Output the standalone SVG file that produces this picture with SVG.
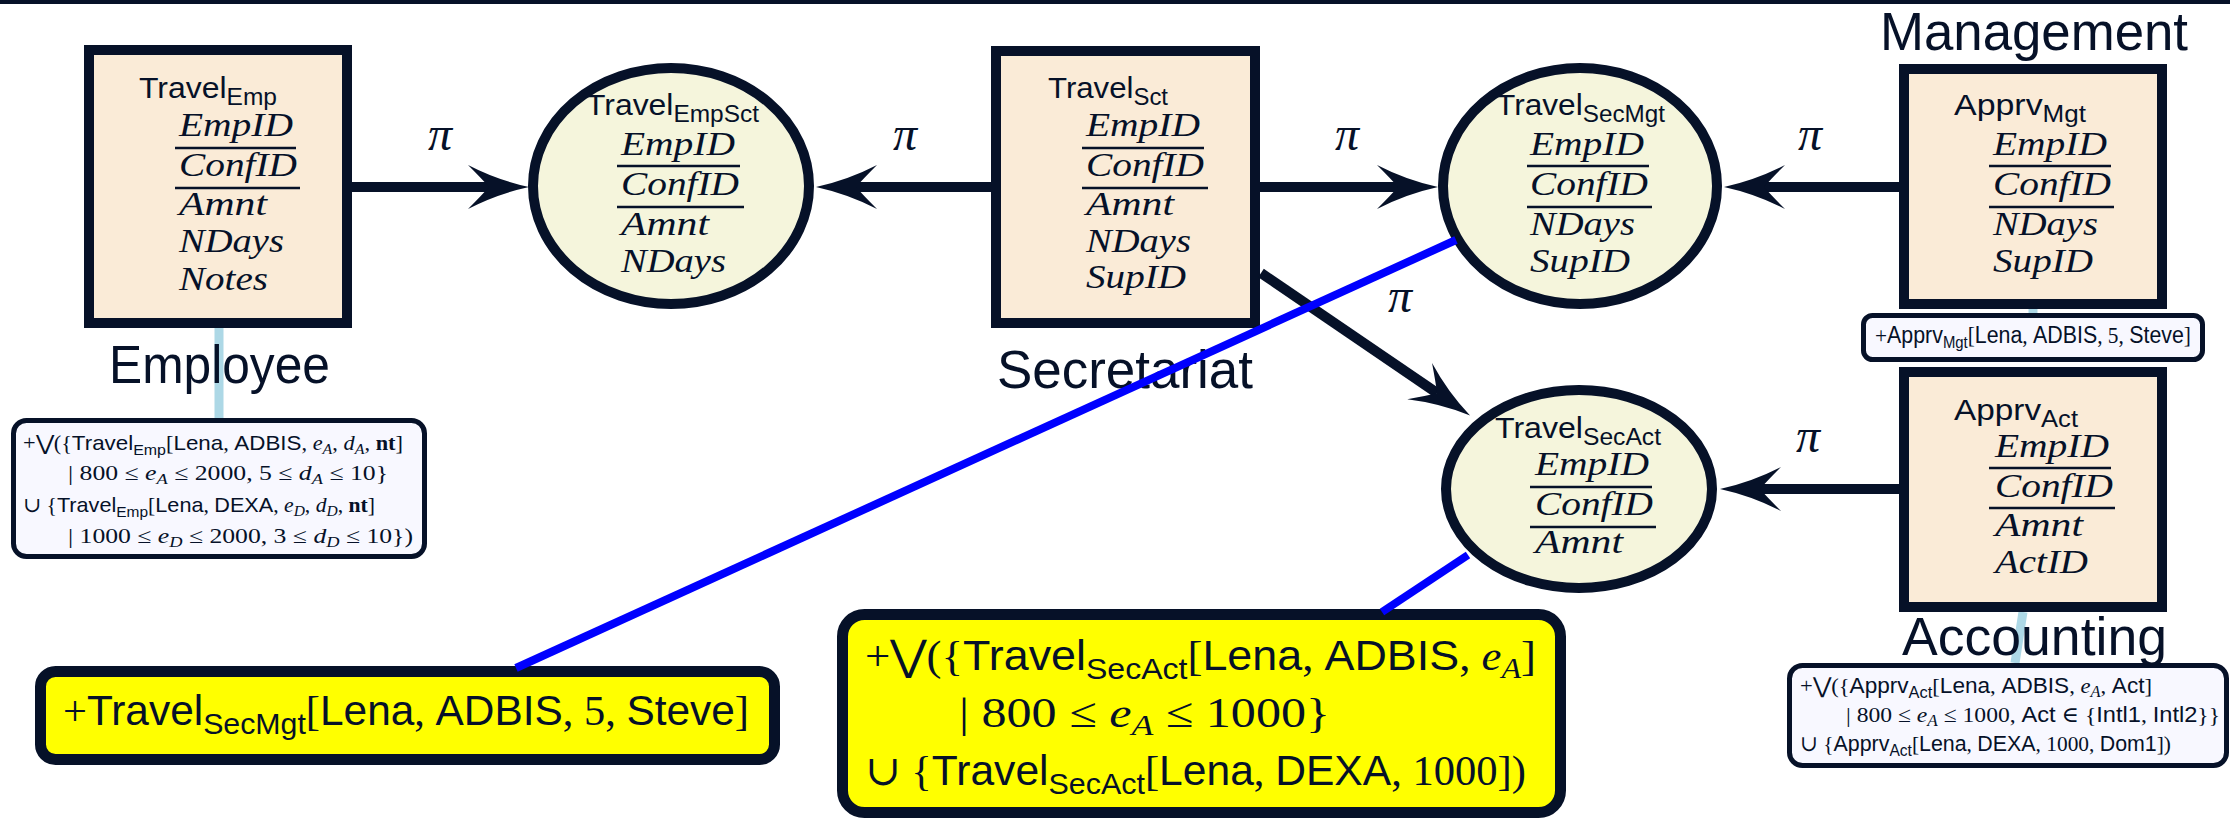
<svg xmlns="http://www.w3.org/2000/svg" width="2230" height="818" viewBox="0 0 2230 818">
<style>
.bg{fill:#ffffff}
.rel{fill:#FAEBD7;stroke:#061128;stroke-width:10}
.view{fill:#F5F5DC;stroke:#061128;stroke-width:10}
.note{fill:#F8F8FF;stroke:#061128;stroke-width:5}
.hl{fill:#FFFF00;stroke:#061128;stroke-width:11}
.ttl{font-family:"Liberation Sans",Arial,sans-serif;font-size:30px;fill:#061128}
.att{font-family:"Liberation Serif","Times New Roman",serif;font-style:italic;font-size:33px;fill:#061128}
.ul{stroke:#061128;stroke-width:2.5}
.lbl{font-family:"Liberation Sans",Arial,sans-serif;font-size:54px;fill:#061128}
.pi{font-family:"Liberation Serif","DejaVu Serif",serif;font-style:italic;font-size:48px;fill:#061128}
.sf{font-family:"Liberation Sans",Arial,sans-serif}
.rm{font-family:"Liberation Serif","DejaVu Serif",serif}
.it{font-family:"Liberation Serif","DejaVu Serif",serif;font-style:italic}
.bf{font-family:"Liberation Serif","DejaVu Serif",serif;font-weight:bold}
.mt{fill:#061128}
.arr{stroke:#061128;stroke-width:10;fill:none}
.blue{stroke:#0000FF;stroke-width:8}
.lb{stroke:#ADD8E6;stroke-width:9}
</style>
<defs>
<marker id="ah" markerUnits="userSpaceOnUse" markerWidth="80" markerHeight="60" viewBox="-30 -30 80 60" refX="0" refY="0" orient="auto">
<path d="M40,0 Q8,-7 -21,-22 Q-7,-8 0,0 Q-7,8 -21,22 Q8,7 40,0 Z" fill="#061128"/>
</marker>
</defs>
<rect class="bg" x="0" y="0" width="2230" height="818"/>
<rect x="0" y="0" width="2230" height="4" fill="#061128"/>

<g id="note-links">
<line class="lb" x1="219" y1="328" x2="219" y2="418"/>
<line class="lb" x1="2033" y1="309" x2="2033" y2="313" stroke-width="8"/>
<line class="lb" x1="2023" y1="612" x2="2015" y2="663" stroke-width="8"/>
</g>

<g id="emp">
<rect class="rel" x="89" y="50" width="258" height="273"/>
<text class="ttl" x="139" y="98" textLength="138" lengthAdjust="spacingAndGlyphs">Travel<tspan font-size="23" dy="7">Emp</tspan></text>
<text class="att" x="179" y="136" textLength="114" lengthAdjust="spacingAndGlyphs">EmpID</text>
<line class="ul" x1="175" y1="148" x2="296" y2="148"/>
<text class="att" x="179" y="176" textLength="118" lengthAdjust="spacingAndGlyphs">ConfID</text>
<line class="ul" x1="175" y1="188" x2="300" y2="188"/>
<text class="att" x="179" y="215" textLength="88" lengthAdjust="spacingAndGlyphs">Amnt</text>
<text class="att" x="179" y="252" textLength="105" lengthAdjust="spacingAndGlyphs">NDays</text>
<text class="att" x="179" y="290" textLength="89" lengthAdjust="spacingAndGlyphs">Notes</text>
<text class="lbl" x="109" y="383" textLength="221" lengthAdjust="spacingAndGlyphs">Employee</text>
</g>

<g id="empsct">
<ellipse class="view" cx="671" cy="186" rx="138" ry="118"/>
<text class="ttl" x="586" y="115" textLength="173" lengthAdjust="spacingAndGlyphs">Travel<tspan font-size="23" dy="7">EmpSct</tspan></text>
<text class="att" x="621" y="155" textLength="114" lengthAdjust="spacingAndGlyphs">EmpID</text>
<line class="ul" x1="617" y1="166" x2="740" y2="166"/>
<text class="att" x="621" y="195" textLength="118" lengthAdjust="spacingAndGlyphs">ConfID</text>
<line class="ul" x1="617" y1="207" x2="744" y2="207"/>
<text class="att" x="621" y="235" textLength="88" lengthAdjust="spacingAndGlyphs">Amnt</text>
<text class="att" x="621" y="272" textLength="105" lengthAdjust="spacingAndGlyphs">NDays</text>
</g>

<g id="sct">
<rect class="rel" x="996" y="51" width="259" height="272"/>
<text class="ttl" x="1048" y="98" textLength="120" lengthAdjust="spacingAndGlyphs">Travel<tspan font-size="23" dy="7">Sct</tspan></text>
<text class="att" x="1086" y="136" textLength="114" lengthAdjust="spacingAndGlyphs">EmpID</text>
<line class="ul" x1="1082" y1="148" x2="1204" y2="148"/>
<text class="att" x="1086" y="176" textLength="118" lengthAdjust="spacingAndGlyphs">ConfID</text>
<line class="ul" x1="1082" y1="188" x2="1208" y2="188"/>
<text class="att" x="1086" y="215" textLength="88" lengthAdjust="spacingAndGlyphs">Amnt</text>
<text class="att" x="1086" y="252" textLength="105" lengthAdjust="spacingAndGlyphs">NDays</text>
<text class="att" x="1086" y="288" textLength="100" lengthAdjust="spacingAndGlyphs">SupID</text>
<text class="lbl" x="997" y="388" textLength="256" lengthAdjust="spacingAndGlyphs">Secretariat</text>
</g>

<g id="secmgt">
<ellipse class="view" cx="1580" cy="186" rx="137" ry="118"/>
<text class="ttl" x="1496" y="115" textLength="169" lengthAdjust="spacingAndGlyphs">Travel<tspan font-size="23" dy="7">SecMgt</tspan></text>
<text class="att" x="1530" y="155" textLength="114" lengthAdjust="spacingAndGlyphs">EmpID</text>
<line class="ul" x1="1527" y1="166" x2="1649" y2="166"/>
<text class="att" x="1530" y="195" textLength="118" lengthAdjust="spacingAndGlyphs">ConfID</text>
<line class="ul" x1="1527" y1="207" x2="1652" y2="207"/>
<text class="att" x="1530" y="235" textLength="105" lengthAdjust="spacingAndGlyphs">NDays</text>
<text class="att" x="1530" y="272" textLength="100" lengthAdjust="spacingAndGlyphs">SupID</text>
</g>

<g id="mgt">
<text class="lbl" x="1880" y="50" textLength="308" lengthAdjust="spacingAndGlyphs">Management</text>
<rect class="rel" x="1904" y="69" width="258" height="235"/>
<text class="ttl" x="1954" y="115" textLength="132" lengthAdjust="spacingAndGlyphs">Apprv<tspan font-size="23" dy="7">Mgt</tspan></text>
<text class="att" x="1993" y="155" textLength="114" lengthAdjust="spacingAndGlyphs">EmpID</text>
<line class="ul" x1="1989" y1="166" x2="2111" y2="166"/>
<text class="att" x="1993" y="195" textLength="118" lengthAdjust="spacingAndGlyphs">ConfID</text>
<line class="ul" x1="1989" y1="207" x2="2114" y2="207"/>
<text class="att" x="1993" y="235" textLength="105" lengthAdjust="spacingAndGlyphs">NDays</text>
<text class="att" x="1993" y="272" textLength="100" lengthAdjust="spacingAndGlyphs">SupID</text>
</g>

<g id="act">
<rect class="rel" x="1904" y="372" width="258" height="235"/>
<text class="ttl" x="1954" y="420" textLength="124" lengthAdjust="spacingAndGlyphs">Apprv<tspan font-size="23" dy="7">Act</tspan></text>
<text class="att" x="1995" y="457" textLength="114" lengthAdjust="spacingAndGlyphs">EmpID</text>
<line class="ul" x1="1989" y1="468" x2="2111" y2="468"/>
<text class="att" x="1995" y="497" textLength="118" lengthAdjust="spacingAndGlyphs">ConfID</text>
<line class="ul" x1="1989" y1="508" x2="2115" y2="508"/>
<text class="att" x="1995" y="536" textLength="88" lengthAdjust="spacingAndGlyphs">Amnt</text>
<text class="att" x="1995" y="573" textLength="93" lengthAdjust="spacingAndGlyphs">ActID</text>
<text class="lbl" x="1902" y="655" textLength="265" lengthAdjust="spacingAndGlyphs">Accounting</text>
</g>

<g id="secact">
<ellipse class="view" cx="1579" cy="489" rx="133" ry="99"/>
<text class="ttl" x="1495" y="438" textLength="166" lengthAdjust="spacingAndGlyphs">Travel<tspan font-size="23" dy="7">SecAct</tspan></text>
<text class="att" x="1535" y="475" textLength="114" lengthAdjust="spacingAndGlyphs">EmpID</text>
<line class="ul" x1="1530" y1="487" x2="1652" y2="487"/>
<text class="att" x="1535" y="515" textLength="118" lengthAdjust="spacingAndGlyphs">ConfID</text>
<line class="ul" x1="1530" y1="527" x2="1656" y2="527"/>
<text class="att" x="1535" y="553" textLength="88" lengthAdjust="spacingAndGlyphs">Amnt</text>
</g>

<g id="note-emp">
<rect class="note" x="13.5" y="420.5" width="411" height="136" rx="13"/>
<text class="mt" x="23" y="450" font-size="21" textLength="380" lengthAdjust="spacingAndGlyphs"><tspan class="rm">+⋁({</tspan><tspan class="sf">Travel</tspan><tspan class="sf" font-size="15" dy="5">Emp</tspan><tspan class="rm" dy="-5">[</tspan><tspan class="sf">Lena</tspan><tspan class="rm">, </tspan><tspan class="sf">ADBIS</tspan><tspan class="rm">, </tspan><tspan class="it">e</tspan><tspan class="it" font-size="15" dy="4">A</tspan><tspan class="rm" dy="-4">, </tspan><tspan class="it">d</tspan><tspan class="it" font-size="15" dy="4">A</tspan><tspan class="rm" dy="-4">, </tspan><tspan class="bf">nt</tspan><tspan class="rm">]</tspan></text>
<text class="mt" x="68" y="480" font-size="21" textLength="320" lengthAdjust="spacingAndGlyphs"><tspan class="rm">| 800 ≤ </tspan><tspan class="it">e</tspan><tspan class="it" font-size="15" dy="4">A</tspan><tspan class="rm" dy="-4"> ≤ 2000, 5 ≤ </tspan><tspan class="it">d</tspan><tspan class="it" font-size="15" dy="4">A</tspan><tspan class="rm" dy="-4"> ≤ 10}</tspan></text>
<text class="mt" x="23" y="512" font-size="21" textLength="352" lengthAdjust="spacingAndGlyphs"><tspan class="rm">∪ {</tspan><tspan class="sf">Travel</tspan><tspan class="sf" font-size="15" dy="5">Emp</tspan><tspan class="rm" dy="-5">[</tspan><tspan class="sf">Lena</tspan><tspan class="rm">, </tspan><tspan class="sf">DEXA</tspan><tspan class="rm">, </tspan><tspan class="it">e</tspan><tspan class="it" font-size="15" dy="4">D</tspan><tspan class="rm" dy="-4">, </tspan><tspan class="it">d</tspan><tspan class="it" font-size="15" dy="4">D</tspan><tspan class="rm" dy="-4">, </tspan><tspan class="bf">nt</tspan><tspan class="rm">]</tspan></text>
<text class="mt" x="68" y="543" font-size="21" textLength="345" lengthAdjust="spacingAndGlyphs"><tspan class="rm">| 1000 ≤ </tspan><tspan class="it">e</tspan><tspan class="it" font-size="15" dy="4">D</tspan><tspan class="rm" dy="-4"> ≤ 2000, 3 ≤ </tspan><tspan class="it">d</tspan><tspan class="it" font-size="15" dy="4">D</tspan><tspan class="rm" dy="-4"> ≤ 10})</tspan></text>
</g>

<g id="note-mgt">
<rect class="note" x="1863.5" y="315.5" width="339" height="44" rx="9"/>
<text class="mt" x="1875" y="343" font-size="23" textLength="316" lengthAdjust="spacingAndGlyphs"><tspan class="rm">+</tspan><tspan class="sf">Apprv</tspan><tspan class="sf" font-size="16" dy="5">Mgt</tspan><tspan class="rm" dy="-5">[</tspan><tspan class="sf">Lena</tspan><tspan class="rm">, </tspan><tspan class="sf">ADBIS</tspan><tspan class="rm">, 5, </tspan><tspan class="sf">Steve</tspan><tspan class="rm">]</tspan></text>
</g>

<g id="note-act">
<rect class="note" x="1789.5" y="665.5" width="437" height="100" rx="13"/>
<text class="mt" x="1800" y="693" font-size="22" textLength="352" lengthAdjust="spacingAndGlyphs"><tspan class="rm">+⋁({</tspan><tspan class="sf">Apprv</tspan><tspan class="sf" font-size="16" dy="5">Act</tspan><tspan class="rm" dy="-5">[</tspan><tspan class="sf">Lena</tspan><tspan class="rm">, </tspan><tspan class="sf">ADBIS</tspan><tspan class="rm">, </tspan><tspan class="it">e</tspan><tspan class="it" font-size="16" dy="4">A</tspan><tspan class="rm" dy="-4">, </tspan><tspan class="sf">Act</tspan><tspan class="rm">]</tspan></text>
<text class="mt" x="1846" y="722" font-size="22" textLength="374" lengthAdjust="spacingAndGlyphs"><tspan class="rm">| 800 ≤ </tspan><tspan class="it">e</tspan><tspan class="it" font-size="16" dy="4">A</tspan><tspan class="rm" dy="-4"> ≤ 1000, </tspan><tspan class="sf">Act</tspan><tspan class="rm"> ∈ {</tspan><tspan class="sf">Intl1</tspan><tspan class="rm">, </tspan><tspan class="sf">Intl2</tspan><tspan class="rm">}}</tspan></text>
<text class="mt" x="1800" y="751" font-size="22" textLength="371" lengthAdjust="spacingAndGlyphs"><tspan class="rm">∪ {</tspan><tspan class="sf">Apprv</tspan><tspan class="sf" font-size="16" dy="5">Act</tspan><tspan class="rm" dy="-5">[</tspan><tspan class="sf">Lena</tspan><tspan class="rm">, </tspan><tspan class="sf">DEXA</tspan><tspan class="rm">, 1000, </tspan><tspan class="sf">Dom1</tspan><tspan class="rm">])</tspan></text>
</g>

<g id="hl-secmgt">
<rect class="hl" x="40.5" y="671.5" width="734" height="88" rx="15"/>
<text class="mt" x="63" y="725" font-size="42" textLength="686" lengthAdjust="spacingAndGlyphs"><tspan class="rm">+</tspan><tspan class="sf">Travel</tspan><tspan class="sf" font-size="30" dy="9">SecMgt</tspan><tspan class="rm" dy="-9">[</tspan><tspan class="sf">Lena</tspan><tspan class="rm">, </tspan><tspan class="sf">ADBIS</tspan><tspan class="rm">, 5, </tspan><tspan class="sf">Steve</tspan><tspan class="rm">]</tspan></text>
</g>

<g id="hl-secact">
<rect class="hl" x="842.5" y="614.5" width="718" height="198" rx="22"/>
<text class="mt" x="865" y="670" font-size="42" textLength="671" lengthAdjust="spacingAndGlyphs"><tspan class="rm">+⋁({</tspan><tspan class="sf">Travel</tspan><tspan class="sf" font-size="30" dy="9">SecAct</tspan><tspan class="rm" dy="-9">[</tspan><tspan class="sf">Lena</tspan><tspan class="rm">, </tspan><tspan class="sf">ADBIS</tspan><tspan class="rm">, </tspan><tspan class="it">e</tspan><tspan class="it" font-size="30" dy="8">A</tspan><tspan class="rm" dy="-8">]</tspan></text>
<text class="mt" x="959" y="727" font-size="42" textLength="371" lengthAdjust="spacingAndGlyphs"><tspan class="rm">| 800 ≤ </tspan><tspan class="it">e</tspan><tspan class="it" font-size="30" dy="8">A</tspan><tspan class="rm" dy="-8"> ≤ 1000}</tspan></text>
<text class="mt" x="865" y="785" font-size="42" textLength="661" lengthAdjust="spacingAndGlyphs"><tspan class="rm">∪ {</tspan><tspan class="sf">Travel</tspan><tspan class="sf" font-size="30" dy="9">SecAct</tspan><tspan class="rm" dy="-9">[</tspan><tspan class="sf">Lena</tspan><tspan class="rm">, </tspan><tspan class="sf">DEXA</tspan><tspan class="rm">, 1000])</tspan></text>
</g>

<g id="connectors">
<line class="arr" x1="352" y1="187" x2="489" y2="187" marker-end="url(#ah)"/>
<line class="arr" x1="991" y1="187" x2="856" y2="187" marker-end="url(#ah)"/>
<line class="arr" x1="1260" y1="187" x2="1398" y2="187" marker-end="url(#ah)"/>
<line class="arr" x1="1899" y1="187" x2="1764" y2="187" marker-end="url(#ah)"/>
<line class="arr" x1="1261" y1="273" x2="1437" y2="393" stroke-width="9" marker-end="url(#ah)"/>
<line class="arr" x1="1899" y1="489" x2="1760" y2="489" marker-end="url(#ah)"/>
<text class="pi" x="440" y="150" text-anchor="middle">π</text>
<text class="pi" x="905" y="150" text-anchor="middle">π</text>
<text class="pi" x="1347" y="150" text-anchor="middle">π</text>
<text class="pi" x="1810" y="150" text-anchor="middle">π</text>
<text class="pi" x="1400" y="312" text-anchor="middle">π</text>
<text class="pi" x="1808" y="452" text-anchor="middle">π</text>
<line class="blue" x1="1456" y1="240" x2="516" y2="668"/>
<line class="blue" x1="1468" y1="555" x2="1382" y2="612"/>
</g>
</svg>
